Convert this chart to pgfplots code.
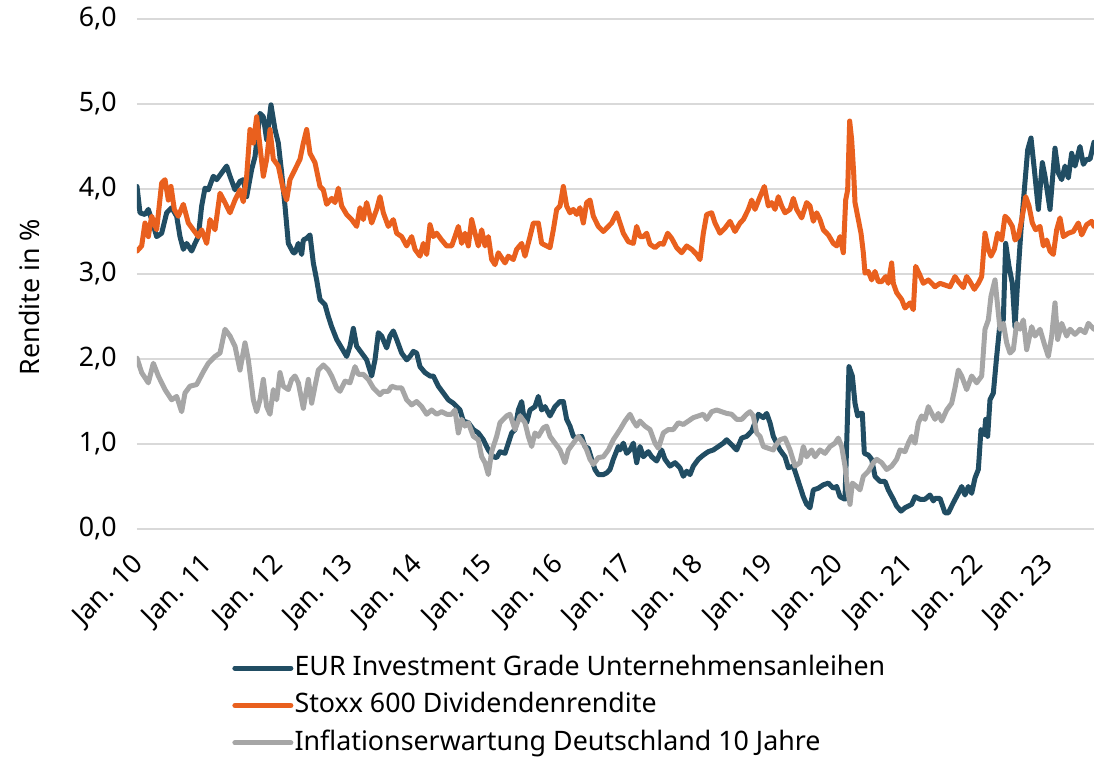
\documentclass[border=0pt]{standalone}
\usepackage{pgfplots}
\pgfplotsset{compat=1.18}
\usepackage{fontspec}
\setmainfont{Noto Sans}
\definecolor{blueline}{HTML}{214D63}
\definecolor{orangeline}{HTML}{E9601E}
\definecolor{grayline}{HTML}{A6A6A6}
\definecolor{gridgray}{HTML}{D9D9D9}
\begin{document}
\begin{tikzpicture}
\begin{axis}[
  name=ax,
  scale only axis, width=478.5bp, height=255bp,
  xmin=0, xmax=2871, ymin=0, ymax=6,
  axis line style={draw=none},
  major tick length=0pt,
  ytick={0,1,2,3,4,5,6},
  ymajorgrids, grid style={line width=1bp, color=gridgray},
  xtick={0,210,420,630,840,1050,1260,1470,1680,1890,2100,2310,2520,2730},
  xticklabels={Jan. 10,Jan. 11,Jan. 12,Jan. 13,Jan. 14,Jan. 15,Jan. 16,Jan. 17,Jan. 18,Jan. 19,Jan. 20,Jan. 21,Jan. 22,Jan. 23},
  xticklabel style={font=\fontsize{13.4bp}{15bp}\selectfont, rotate=45, anchor=north east, inner sep=0pt, xshift=-10.3bp, yshift=-5.5bp},
  yticklabel style={font=\fontsize{13.4bp}{15bp}\selectfont, inner sep=0pt, xshift=-10bp,
    /pgf/number format/.cd, fixed, fixed zerofill, precision=1, use comma, assume math mode=true},
  ylabel={Rendite in \%},
  ylabel style={font=\fontsize{13.4bp}{15bp}\selectfont, at={(axis description cs:-0.112,0.455)}, anchor=center},
  legend style={at={(axis description cs:0.093,-0.236)}, anchor=north west, draw=none, fill=none,
    font=\fontsize{13.4bp}{15bp}\selectfont, row sep=4.3bp, column sep=0bp,
    nodes={inner sep=0.6bp, text height=10.2bp, text depth=3bp}},
  legend cell align=left,
  legend image code/.code={\draw[#1] (0bp,0bp) -- (28bp,0bp);},
  every axis plot/.append style={line width=2.5bp, line join=round, line cap=round},
]
\addplot[blueline] table {
0 4.03
9 3.72
24 3.70
34 3.76
44 3.64
59 3.44
74 3.48
89 3.72
104 3.78
119 3.68
129 3.44
139 3.29
149 3.36
164 3.27
174 3.36
184 3.44
194 3.80
204 4.01
214 3.99
229 4.15
239 4.11
254 4.19
269 4.27
279 4.15
294 3.99
309 4.09
319 4.11
329 3.91
344 4.23
354 4.38
369 4.89
379 4.85
389 4.58
402 4.99
414 4.70
424 4.54
434 4.19
444 3.80
454 3.36
469 3.25
474 3.25
484 3.36
494 3.23
499 3.40
509 3.42
519 3.46
529 3.13
539 2.93
549 2.70
564 2.64
574 2.50
584 2.38
599 2.23
614 2.13
629 2.03
639 2.15
649 2.36
659 2.15
674 2.07
689 1.99
704 1.80
714 1.99
724 2.31
734 2.27
749 2.13
759 2.27
769 2.33
779 2.23
794 2.07
809 1.99
819 2.03
829 2.09
839 2.07
849 1.91
864 1.84
879 1.80
889 1.80
904 1.68
919 1.60
934 1.52
949 1.48
969 1.40
979 1.27
994 1.25
1009 1.17
1024 1.13
1039 1.05
1054 0.93
1069 0.85
1079 0.84
1089 0.91
1104 0.89
1114 1.01
1124 1.13
1134 1.17
1144 1.40
1154 1.50
1159 1.36
1169 1.25
1179 1.40
1194 1.44
1204 1.56
1214 1.40
1224 1.44
1239 1.33
1254 1.44
1269 1.50
1279 1.50
1289 1.29
1299 1.21
1309 1.09
1319 1.07
1334 1.09
1344 0.97
1354 0.95
1364 0.82
1374 0.70
1384 0.64
1399 0.64
1409 0.66
1419 0.70
1429 0.82
1444 0.97
1449 0.93
1459 1.01
1469 0.89
1479 0.93
1489 1.01
1499 0.78
1509 0.97
1519 0.85
1534 0.91
1544 0.85
1559 0.80
1574 0.93
1584 0.82
1599 0.74
1614 0.78
1629 0.72
1639 0.62
1649 0.68
1659 0.64
1669 0.74
1684 0.82
1699 0.87
1714 0.91
1729 0.93
1744 0.97
1759 1.01
1769 1.05
1784 0.99
1799 0.93
1814 1.07
1829 1.09
1844 1.15
1854 1.25
1864 1.35
1879 1.31
1889 1.36
1899 1.25
1909 1.09
1929 0.93
1944 0.85
1954 0.72
1969 0.74
1979 0.62
1989 0.50
1999 0.38
2009 0.29
2019 0.25
2029 0.46
2044 0.48
2059 0.52
2074 0.54
2089 0.48
2099 0.50
2109 0.38
2124 0.35
2136 1.91
2146 1.80
2154 1.48
2162 1.33
2169 1.36
2176 1.36
2182 0.89
2194 0.87
2204 0.82
2214 0.62
2229 0.56
2244 0.56
2254 0.46
2269 0.35
2279 0.27
2292 0.21
2304 0.25
2314 0.27
2324 0.29
2334 0.38
2349 0.35
2364 0.35
2379 0.40
2389 0.33
2394 0.36
2409 0.36
2424 0.19
2434 0.19
2449 0.31
2464 0.42
2474 0.50
2484 0.40
2494 0.50
2504 0.42
2514 0.60
2524 0.70
2532 1.17
2542 1.11
2546 1.29
2552 1.09
2559 1.52
2569 1.60
2579 2.03
2589 2.42
2599 2.46
2606 3.36
2616 3.09
2626 2.89
2634 2.38
2644 3.05
2652 3.52
2662 3.99
2672 4.46
2682 4.60
2692 4.23
2704 3.76
2716 4.31
2724 4.15
2739 3.76
2754 4.48
2764 4.19
2774 4.11
2784 4.27
2794 4.13
2804 4.42
2814 4.27
2829 4.50
2839 4.29
2849 4.35
2859 4.35
2871 4.55
};
\addlegendentry{EUR Investment Grade Unternehmensanleihen}
\addplot[orangeline] table {
0 3.27
14 3.33
24 3.60
34 3.44
44 3.68
59 3.52
74 4.07
84 4.11
94 3.87
102 4.03
112 3.76
124 3.68
139 3.82
154 3.60
169 3.52
184 3.44
194 3.52
209 3.36
219 3.64
234 3.52
249 3.95
264 3.84
279 3.72
294 3.87
309 3.99
319 3.85
329 4.15
339 4.70
349 4.54
359 4.85
369 4.50
379 4.15
389 4.35
399 4.70
409 4.35
424 4.27
439 3.99
449 3.87
459 4.11
469 4.19
474 4.23
489 4.35
499 4.54
509 4.70
519 4.42
534 4.31
549 4.03
559 3.99
569 3.82
584 3.89
594 3.84
604 4.01
614 3.80
629 3.70
644 3.64
659 3.56
669 3.78
679 3.64
689 3.84
704 3.60
719 3.76
729 3.91
739 3.72
754 3.56
769 3.64
779 3.48
794 3.44
809 3.33
824 3.44
834 3.29
849 3.21
859 3.36
869 3.23
879 3.58
889 3.44
899 3.48
914 3.40
929 3.33
944 3.33
954 3.44
964 3.56
974 3.36
984 3.48
994 3.33
1004 3.64
1014 3.48
1024 3.33
1034 3.52
1044 3.33
1054 3.44
1064 3.17
1074 3.11
1084 3.25
1094 3.19
1104 3.13
1114 3.21
1129 3.17
1139 3.29
1154 3.36
1164 3.21
1179 3.44
1189 3.60
1204 3.60
1214 3.36
1229 3.33
1239 3.31
1249 3.52
1259 3.76
1269 3.80
1279 4.03
1289 3.80
1299 3.72
1309 3.76
1319 3.70
1329 3.78
1339 3.60
1349 3.84
1359 3.87
1369 3.68
1384 3.56
1399 3.50
1414 3.56
1424 3.60
1434 3.68
1439 3.72
1449 3.60
1459 3.48
1474 3.38
1489 3.36
1499 3.56
1509 3.44
1519 3.44
1529 3.48
1539 3.35
1554 3.31
1569 3.36
1579 3.35
1592 3.48
1604 3.42
1619 3.31
1634 3.25
1649 3.33
1664 3.29
1679 3.23
1689 3.17
1699 3.48
1709 3.70
1724 3.72
1734 3.60
1749 3.48
1764 3.54
1779 3.62
1794 3.50
1809 3.60
1819 3.64
1834 3.76
1844 3.87
1854 3.76
1869 3.91
1882 4.03
1894 3.80
1904 3.84
1914 3.76
1924 3.91
1934 3.80
1944 3.72
1959 3.76
1969 3.89
1979 3.76
1994 3.66
2009 3.84
2019 3.80
2029 3.62
2039 3.72
2049 3.64
2059 3.52
2074 3.46
2089 3.36
2099 3.33
2109 3.44
2119 3.25
2126 3.87
2132 3.99
2138 4.80
2144 4.58
2150 4.19
2154 3.84
2164 3.64
2172 3.48
2179 3.25
2184 3.01
2194 3.03
2204 2.93
2214 3.03
2224 2.91
2234 2.91
2246 2.97
2254 2.89
2264 3.13
2269 2.89
2279 2.78
2294 2.70
2304 2.60
2319 2.66
2329 2.58
2336 3.09
2346 3.01
2359 2.89
2374 2.93
2389 2.87
2394 2.85
2409 2.89
2424 2.87
2439 2.85
2454 2.97
2464 2.91
2479 2.84
2489 2.97
2499 2.91
2512 2.82
2524 2.89
2534 2.97
2544 3.48
2554 3.29
2562 3.21
2572 3.29
2582 3.48
2594 3.40
2604 3.68
2614 3.64
2626 3.56
2634 3.40
2644 3.44
2656 3.68
2666 3.91
2676 3.80
2686 3.60
2696 3.52
2709 3.56
2719 3.33
2729 3.40
2739 3.27
2749 3.23
2759 3.52
2769 3.66
2779 3.44
2794 3.48
2809 3.50
2824 3.60
2834 3.46
2849 3.58
2864 3.62
2871 3.56
};
\addlegendentry{Stoxx 600 Dividendenrendite}
\addplot[grayline] table {
0 2.01
14 1.84
34 1.72
49 1.95
64 1.80
84 1.64
104 1.52
119 1.56
134 1.38
144 1.60
159 1.68
179 1.70
199 1.85
214 1.95
234 2.03
249 2.07
264 2.35
279 2.27
294 2.15
309 1.87
324 2.19
334 1.99
349 1.52
359 1.38
369 1.52
379 1.76
389 1.44
399 1.35
409 1.64
419 1.52
429 1.84
439 1.68
454 1.64
464 1.76
474 1.80
484 1.72
499 1.42
514 1.76
524 1.48
534 1.68
544 1.87
559 1.93
574 1.87
584 1.80
599 1.66
609 1.62
624 1.74
639 1.72
654 1.91
664 1.82
679 1.82
694 1.76
709 1.66
729 1.58
739 1.62
754 1.62
764 1.68
779 1.66
794 1.66
809 1.52
824 1.46
839 1.50
854 1.44
869 1.35
884 1.40
899 1.35
914 1.38
929 1.35
944 1.35
954 1.40
964 1.13
974 1.29
984 1.21
994 1.25
1009 1.09
1024 1.05
1034 0.85
1044 0.78
1054 0.64
1064 0.91
1079 1.09
1089 1.25
1099 1.29
1109 1.33
1119 1.35
1134 1.17
1149 1.33
1164 1.25
1174 1.09
1184 0.97
1194 1.13
1204 1.09
1219 1.19
1229 1.21
1239 1.09
1254 1.01
1269 0.93
1284 0.78
1294 0.93
1309 1.01
1324 1.09
1339 1.01
1349 0.93
1359 0.82
1369 0.76
1384 0.84
1399 0.85
1414 0.93
1429 1.05
1449 1.17
1464 1.27
1479 1.35
1489 1.27
1499 1.21
1509 1.27
1524 1.21
1539 1.17
1554 1.01
1564 0.95
1579 1.13
1594 1.17
1609 1.17
1624 1.25
1639 1.23
1654 1.27
1669 1.31
1684 1.33
1699 1.35
1709 1.29
1724 1.38
1739 1.40
1754 1.38
1769 1.36
1784 1.35
1799 1.29
1814 1.29
1829 1.35
1839 1.38
1849 1.33
1859 1.13
1869 1.09
1879 0.97
1894 0.95
1909 0.93
1914 0.97
1929 1.05
1944 1.07
1959 0.93
1974 0.74
1989 0.78
1999 0.97
2009 0.85
2024 0.93
2034 0.85
2049 0.93
2064 0.89
2079 0.97
2094 1.01
2104 1.07
2114 0.97
2124 0.74
2132 0.46
2139 0.29
2146 0.54
2159 0.50
2169 0.46
2179 0.62
2194 0.68
2209 0.78
2219 0.82
2234 0.78
2249 0.70
2264 0.74
2279 0.82
2289 0.93
2304 0.91
2314 1.01
2324 1.09
2334 1.01
2344 1.25
2354 1.33
2364 1.29
2374 1.44
2384 1.36
2394 1.29
2404 1.36
2414 1.27
2429 1.40
2444 1.48
2454 1.66
2464 1.87
2474 1.80
2489 1.64
2504 1.80
2519 1.72
2534 1.80
2544 2.35
2554 2.46
2562 2.74
2574 2.93
2582 2.62
2589 2.35
2599 2.42
2609 2.19
2619 2.07
2629 2.11
2639 2.42
2649 2.35
2659 2.46
2669 2.11
2684 2.38
2694 2.27
2709 2.35
2724 2.15
2734 2.03
2744 2.27
2754 2.66
2762 2.23
2774 2.42
2789 2.27
2799 2.35
2814 2.29
2829 2.35
2844 2.31
2854 2.42
2871 2.35
};
\addlegendentry{Inflationserwartung Deutschland 10 Jahre}
\end{axis}
\pgfresetboundingbox
\path[use as bounding box] (-68.5bp,-114.5bp) rectangle (478.5bp,264.5bp);
\end{tikzpicture}
\end{document}
